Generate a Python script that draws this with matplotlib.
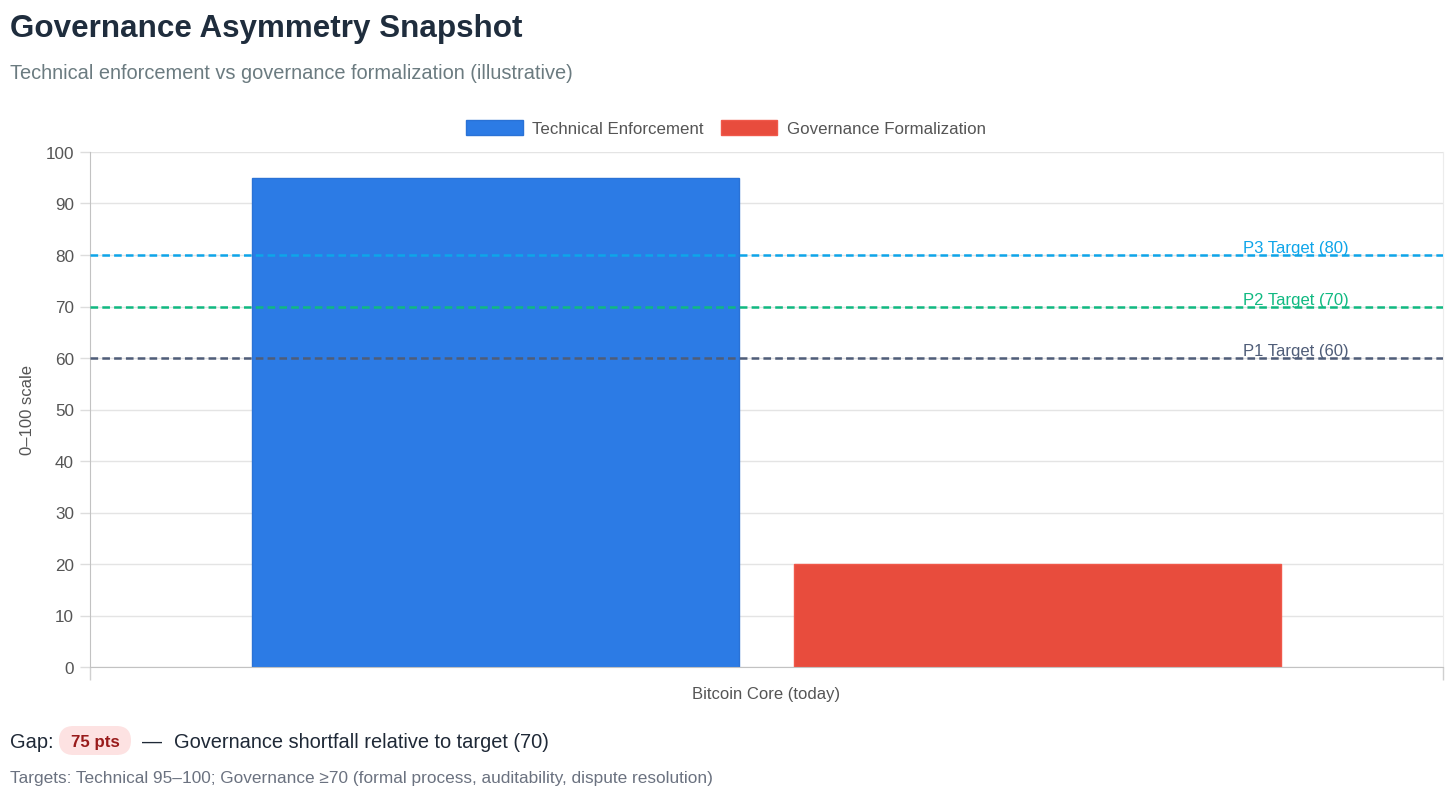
import matplotlib.pyplot as plt
import matplotlib.transforms as mtransforms
from matplotlib.patches import Patch, FancyBboxPatch

plt.rcParams['font.family'] = ['Liberation Sans', 'DejaVu Sans']
plt.rcParams['lines.scale_dashes'] = False

# Data
category = 'Bitcoin Core (today)'
series_names = ['Technical Enforcement', 'Governance Formalization']
series_values = [95, 20]
series_colors = ['#2c7be5', '#e84c3d']
edge_colors = ['#2a72d6', '#f0584a']
target_names = ['P3 Target (80)', 'P2 Target (70)', 'P1 Target (60)']
target_values = [80, 70, 60]
target_colors = ['#0ea5e9', '#10b981', '#4f5d78']
gap_pts = 75
governance_target = 70

W, H = 1456, 804
fig = plt.figure(figsize=(W / 100, H / 100), dpi=100)

def fx(px):
    return px / W

def fy(py):
    return 1 - py / H

# plot area in pixels: left 90, right 1443, top 153, bottom 668
ax = fig.add_axes([fx(90), fy(668), (1443 - 90) / W, (668 - 153) / H])

offsets = [-0.2, 0.2]
for name, val, col, ec, off in zip(series_names, series_values, series_colors, edge_colors, offsets):
    ax.bar(off, val, width=0.36, color=col, edgecolor=ec, linewidth=1, zorder=2, label=name)

# target lines
trans = mtransforms.blended_transform_factory(ax.transAxes, ax.transData)
for name, val, col in zip(target_names, target_values, target_colors):
    ax.axhline(val, color=col, lw=1.8, dashes=(5.5, 3), zorder=3)
    ax.text(0.891, val + 1.45, name, transform=trans, ha='center', va='center',
            color=col, fontsize=12, zorder=4)

ax.set_xlim(-0.5, 0.5)
ax.set_ylim(0, 100)
ax.set_yticks(range(0, 101, 10))
ax.set_xticks([0])
ax.set_xticklabels([category])
ax.set_xticks([-0.5, 0.5], minor=True)
ax.tick_params(axis='x', which='major', length=0, pad=14, labelsize=12, labelcolor='#555555')
ax.tick_params(axis='x', which='minor', length=9, width=1, color='#d0d0d0')
ax.tick_params(axis='y', length=7, width=1, color='#dddddd', pad=4.5, labelsize=12.3, labelcolor='#555555')
ax.grid(axis='y', color='#e4e4e4', lw=1, zorder=0)
ax.set_axisbelow(True)

ax.spines['top'].set_visible(False)
ax.spines['left'].set_color('#c2c2c2')
ax.spines['bottom'].set_color('#c2c2c2')
ax.spines['right'].set_color('#ececec')

ax.set_ylabel('0\u2013100 scale', fontsize=12, color='#555555')
ax.yaxis.set_label_coords(-0.0406, 0.5)

# legend
handles = [Patch(facecolor=c, edgecolor=e, linewidth=1) for c, e in zip(series_colors, edge_colors)]
fig.legend(handles, series_names, loc='center', bbox_to_anchor=(fx(726), fy(129)), ncol=2,
           frameon=False, fontsize=12.2, handlelength=3.35, handleheight=1.0,
           handletextpad=0.55, columnspacing=1.0, labelcolor='#555555')

# title and subtitle
fig.text(fx(10), fy(37), 'Governance Asymmetry Snapshot', fontsize=22.6, fontweight='bold',
         color='#1f2d3d', va='baseline', ha='left')
fig.text(fx(10), fy(79), 'Technical enforcement vs governance formalization (illustrative)',
         fontsize=14.4, color='#6b7b80', va='baseline', ha='left')

# gap line with pill
pill = FancyBboxPatch((0.59, (H - 756) / 100), 0.72, 0.29,
                      boxstyle='round,pad=0,rounding_size=0.145',
                      transform=fig.dpi_scale_trans, facecolor='#fde2e2', edgecolor='none')
fig.patches.append(pill)
fig.text(fx(10), fy(748), 'Gap:', fontsize=14.4, color='#1f2937', va='baseline', ha='left')
fig.text(fx(95), fy(747), '%d pts' % gap_pts, fontsize=12.2, fontweight='bold', color='#991b1b',
         va='baseline', ha='center')
fig.text(fx(142), fy(748), '\u2014', fontsize=14.4, color='#1f2937', va='baseline', ha='left')
fig.text(fx(174), fy(748), 'Governance shortfall relative to target (%d)' % governance_target,
         fontsize=14.4, color='#1f2937', va='baseline', ha='left')

fig.text(fx(10), fy(783), 'Targets: Technical 95\u2013100; Governance \u226570 (formal process, auditability, dispute resolution)',
         fontsize=12.4, color='#6b7280', va='baseline', ha='left')

fig.savefig('out.png', dpi=100)
